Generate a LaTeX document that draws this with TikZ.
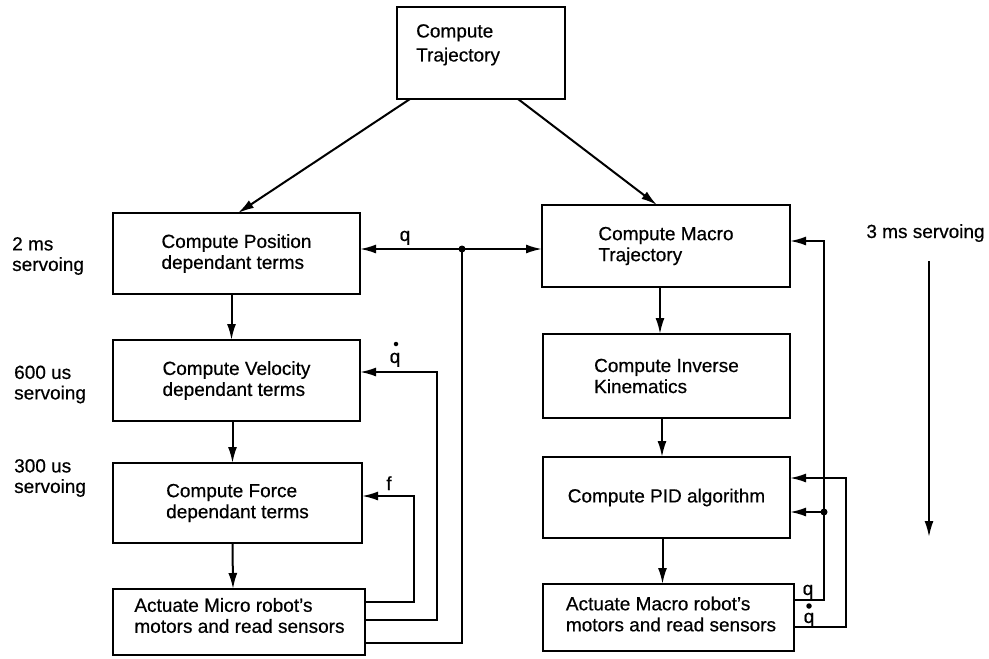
\documentclass[tikz,border=0pt]{standalone}
\usepackage{fontspec}
\setmainfont{Liberation Sans}[FakeBold=0.5]
\usetikzlibrary{arrows.meta,calc}
\begin{document}
\begin{tikzpicture}[x=1pt,y=-1pt,
  font=\fontsize{19}{21}\selectfont,
  box/.style={draw, line width=2.2pt, inner sep=0pt, outer sep=0pt, align=left},
  txt/.style={inner sep=0pt, align=left},
  flow/.style={line width=2pt, -{Latex[length=16pt,width=9pt]}},
  wire/.style={line width=2pt},
  sig/.style={inner sep=0pt, anchor=base},
  rate/.style={inner sep=0pt, anchor=west, align=left, font=\fontsize{19}{20.5}\selectfont},
  junction/.style={circle, fill, inner sep=0pt, minimum size=7pt},
  dotmark/.style={circle, fill, inner sep=0pt, minimum size=#1},
  dotmark/.default=4.5pt
]
\useasboundingbox (0,0) rectangle (989,659);

% ---- boxes ----
\node[box, minimum width=168pt, minimum height=92pt] (traj) at (481,53) {};
\node[txt, anchor=north west, font=\fontsize{19}{24}\selectfont] (trajtxt) at (416,24) {Compute\\Trajectory};

\node[box, minimum width=247pt, minimum height=81pt] (pos) at (236.5,253.5) {Compute Position\\dependant terms};
\node[box, minimum width=247pt, minimum height=81pt] (vel) at (236.5,380.5) {Compute Velocity\\dependant terms};
\node[box, minimum width=249pt, minimum height=80pt] (force) at (237.5,503) {Compute Force\\dependant terms};
\node[box, minimum width=252pt, minimum height=66pt] (micro) at (239,622) {};
\node[txt] (microtxt) at (239.5,615.5) {Actuate Micro robot's\\motors and read sensors};

\node[box, minimum width=248pt, minimum height=82pt] (mtraj) at (666,246) {Compute Macro\\Trajectory};
\node[box, minimum width=247pt, minimum height=84pt] (ik) at (666.5,376) {Compute Inverse\\Kinematics};
\node[box, minimum width=247pt, minimum height=81pt] (pid) at (666.5,497.5) {Compute PID algorithm};
\node[box, minimum width=251pt, minimum height=67pt] (macro) at (668.5,617.5) {};
\node[txt] (macrotxt) at (671,614) {Actuate Macro robot's\\motors and read sensors};

% ---- servo rates ----
\node[rate] (r2) at (12,256) {2 ms\\servoing};
\node[rate] (r600) at (14,384.5) {600 us\\servoing};
\node[rate] (r300) at (14,478) {300 us\\servoing};
\node[sig] (r3) at (925.5,238) {3 ms servoing};
\draw[flow] ($(r3.base)+(3.5,23)$) -- ++(0,276);

% ---- forward flow ----
\draw[flow] ($(traj.south west)+(13,0)$) -- ($(pos.north)+(1.5,0)$);
\draw[flow] ($(traj.south west)+(121,0)$) -- ($(mtraj.north)+(-9,0)$);

\draw[flow] ($(pos.south)+(-5,0)$) -- ($(vel.north)+(-5,0)$);
\draw[flow] ($(vel.south)+(-4,0)$) -- ($(force.north)+(-5,0)$);
\draw[flow] ($(force.south)+(-5,0)$) -- ($(micro.north)+(-6,0)$);

\draw[flow] ($(mtraj.south)+(-6,0)$) -- ($(ik.north)+(-6.5,0)$);
\draw[flow] ($(ik.south)+(-4.5,0)$) -- ($(pid.north)+(-4.5,0)$);
\draw[flow] ($(pid.south)+(-4,0)$) -- ($(macro.north)+(-6,0)$);

% ---- micro robot feedback ----
\coordinate (fturn) at (414,496);
\draw[flow] ($(micro.east)+(0,-20)$) -| (fturn) -- (force.east |- fturn);
\coordinate (vturn) at (437,372);
\draw[flow] ($(micro.east)+(0,-2)$) -| (vturn) -- (vel.east |- vturn);
\coordinate (qjoin) at (462,249);
\draw[wire] ($(micro.east)+(0,21)$) -| (qjoin);
\draw[flow] (qjoin) -- (pos.east |- qjoin);
\draw[flow] (qjoin) -- (mtraj.west |- qjoin);
\node[junction] (qjoindot) at (qjoin) {};

\node[sig] (lq) at (405,241) {q};
\node[sig] (lqd) at (395,363) {q};
\node[dotmark] (lqddot) at (396,344) {};
\node[sig] (lf) at (389,490) {f};

% ---- macro robot feedback ----
\coordinate (rq) at (824,241);
\coordinate (rqjoin) at (824,512);
\draw[flow] ($(macro.east)+(0,-17.5)$) -| (rq) -- (mtraj.east |- rq);
\draw[flow] (rqjoin) -- (pid.east |- rqjoin);
\node[junction] (rqjoindot) at (rqjoin) {};
\coordinate (rv) at (846,478);
\draw[flow] ($(macro.east)+(0,9.5)$) -| (rv) -- (pid.east |- rv);

\node[sig] (rlq) at (808,595) {q};
\node[dotmark=5.5pt] (rlqddot) at (809,606) {};
\node[sig] (rlqd) at (809,623) {q};
\end{tikzpicture}
\end{document}
